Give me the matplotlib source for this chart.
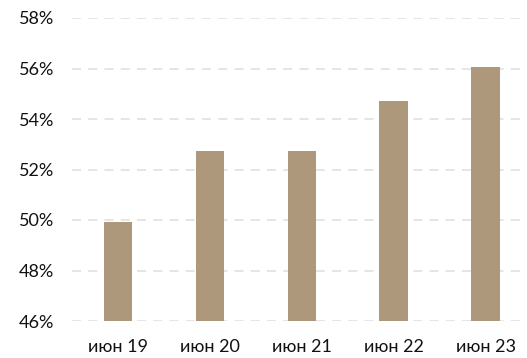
import matplotlib
matplotlib.use("Agg")
import matplotlib.pyplot as plt
from matplotlib.ticker import FuncFormatter

categories = ["июн 19", "июн 20", "июн 21", "июн 22", "июн 23"]
values = [49.93, 52.75, 52.73, 54.70, 56.07]
yticks = [46, 48, 50, 52, 54, 56, 58]

plt.rcParams["font.family"] = ["Lato", "DejaVu Sans"]

fig = plt.figure(figsize=(5.27, 3.58), dpi=100)
ax = fig.add_axes([72 / 527, 1 - 321 / 358, 1 - 72 / 527, (321 - 18) / 358])

x = range(len(categories))
ax.bar(x, values, width=0.31, bottom=0, color="#AD987C", zorder=3)

ax.set_ylim(46, 58)
ax.set_xlim(-0.5, 4.45)
ax.set_yticks(yticks)
ax.yaxis.set_major_formatter(FuncFormatter(lambda v, _: f"{v:.0f}%"))
ax.set_xticks(list(x))
ax.set_xticklabels(categories)

ax.grid(axis="y", color="#E3E3E3", linestyle=(0, (5, 4)), linewidth=1.3, zorder=0)
for s in ax.spines.values():
    s.set_visible(False)
ax.tick_params(length=0, labelsize=13, colors="#111111")
ax.tick_params(axis="y", pad=13)
ax.tick_params(axis="x", pad=13)

fig.savefig("out.png", dpi=100)
